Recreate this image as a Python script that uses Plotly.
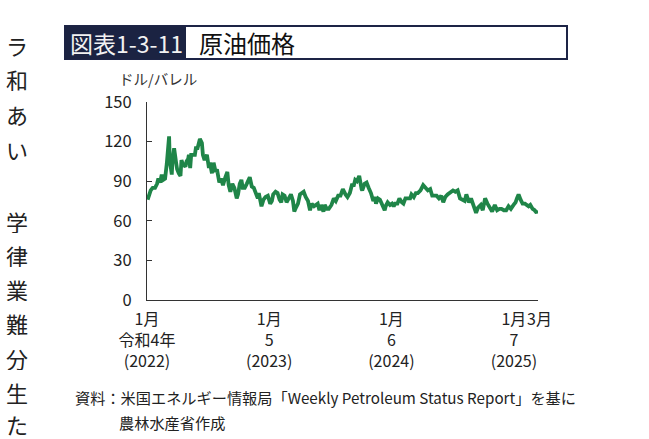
import plotly.graph_objects as go

FONT = "Noto Sans CJK JP"

dates = [
    "2022-01-03","2022-01-07","2022-01-12","2022-01-18","2022-01-25","2022-01-31","2022-02-04","2022-02-09",
    "2022-02-14","2022-02-18","2022-02-24","2022-03-01","2022-03-04","2022-03-08","2022-03-10","2022-03-16",
    "2022-03-18","2022-03-23","2022-03-29","2022-04-01","2022-04-06","2022-04-11","2022-04-14","2022-04-19",
    "2022-04-22","2022-04-26","2022-04-29","2022-05-04","2022-05-06","2022-05-10","2022-05-13","2022-05-18",
    "2022-05-24","2022-05-27","2022-06-01","2022-06-08","2022-06-14","2022-06-17","2022-06-22","2022-06-29",
    "2022-07-05","2022-07-08","2022-07-14","2022-07-19","2022-07-25","2022-07-29","2022-08-05","2022-08-10",
    "2022-08-16","2022-08-23","2022-08-29","2022-09-02","2022-09-07","2022-09-13","2022-09-19","2022-09-26",
    "2022-09-30","2022-10-05","2022-10-10","2022-10-14","2022-10-20","2022-10-26","2022-11-04","2022-11-10",
    "2022-11-16","2022-11-22","2022-11-28","2022-12-01","2022-12-07","2022-12-09","2022-12-15","2022-12-21",
    "2022-12-28",
    "2023-01-04","2023-01-09","2023-01-13","2023-01-20","2023-01-26","2023-02-01","2023-02-06","2023-02-10",
    "2023-02-16","2023-02-22","2023-03-01","2023-03-07","2023-03-13","2023-03-17","2023-03-22","2023-03-28",
    "2023-04-03","2023-04-11","2023-04-14","2023-04-20","2023-04-27","2023-05-03","2023-05-08","2023-05-15",
    "2023-05-19","2023-05-26","2023-05-31","2023-06-05","2023-06-12","2023-06-16","2023-06-22","2023-06-28",
    "2023-07-06","2023-07-13","2023-07-19","2023-07-26","2023-08-02","2023-08-09","2023-08-17","2023-08-23",
    "2023-08-30","2023-09-05","2023-09-11","2023-09-15","2023-09-20","2023-09-27","2023-10-04","2023-10-06",
    "2023-10-13","2023-10-19","2023-10-25","2023-11-01","2023-11-08","2023-11-13","2023-11-16","2023-11-22",
    "2023-11-28","2023-12-05","2023-12-12","2023-12-15","2023-12-21","2023-12-28",
    "2024-01-03","2024-01-08","2024-01-12","2024-01-19","2024-01-25","2024-02-01","2024-02-06","2024-02-12",
    "2024-02-20","2024-02-26","2024-03-01","2024-03-08","2024-03-14","2024-03-20","2024-03-28","2024-04-05",
    "2024-04-12","2024-04-19","2024-04-26","2024-05-02","2024-05-08","2024-05-15","2024-05-22","2024-05-29",
    "2024-06-04","2024-06-10","2024-06-17","2024-06-24","2024-07-03","2024-07-10","2024-07-17","2024-07-24",
    "2024-08-01","2024-08-07","2024-08-12","2024-08-20","2024-08-26","2024-09-03","2024-09-10","2024-09-16",
    "2024-09-24","2024-09-30","2024-10-07","2024-10-14","2024-10-21","2024-10-28","2024-11-05","2024-11-12",
    "2024-11-19","2024-11-25","2024-12-02","2024-12-09","2024-12-16","2024-12-23","2024-12-31",
    "2025-01-06","2025-01-10","2025-01-15","2025-01-21","2025-01-27","2025-02-03","2025-02-10","2025-02-14",
    "2025-02-19","2025-02-26","2025-03-04","2025-03-10","2025-03-12",
]
prices = [
    76,79,83,85,85,88,92,89,
    95,91,92,103,116,124,106,95,
    105,115,104,99,96,94,106,102,
    102,101,105,107,110,100,110,110,
    110,115,115,122,119,110,106,110,
    100,104,96,104,97,99,89,92,
    87,93,97,87,82,88,85,77,
    80,88,91,85,85,88,93,86,
    85,81,77,81,72,71,76,78,
    79,
    73,75,80,82,81,76,74,80,
    79,74,77,80,75,67,70,73,
    80,81,82,78,75,68,73,71,
    72,73,68,72,67,72,69,69,
    72,77,75,79,79,84,80,78,
    81,87,87,91,90,94,84,83,
    88,89,85,81,75,78,73,77,
    76,72,68,71,74,72,
    73,71,73,73,77,74,73,77,
    77,77,80,78,81,81,83,87,
    85,83,84,79,79,79,77,79,
    74,78,80,81,83,82,83,77,
    76,75,80,74,77,70,66,70,
    72,68,77,73,70,67,72,68,
    69,69,68,68,71,69,72,
    74,77,80,76,73,73,72,71,
    72,69,68,66,68,
]

x_tick_vals = ["2022-01-01", "2023-01-01", "2024-01-01", "2025-01-01"]
x_tick_text = ["1月<br>令和4年<br>(2022)", "1月<br>5<br>(2023)", "1月<br>6<br>(2024)", "1月<br>7<br>(2025)"]
y_tick_vals = [0, 30, 60, 90, 120, 150]

title_tag = "図表1-3-11"
title_text = "原油価格"
y_unit = "ドル/バレル"
source_line1 = "資料：米国エネルギー情報局「Weekly Petroleum Status Report」を基に"
source_line2 = "農林水産省作成"
edge_chars = ["ラ", "和", "あ", "い", "学", "律", "業", "難", "分", "生", "た"]
edge_y = [45, 79, 114, 149, 221, 255, 289, 323, 358, 392, 424]

W, H = 649, 439
L, R, T, B = 147, 538, 102, 300  # plot area in pixels


def px(x):
    return (x - L) / (R - L)


def py(y):
    return (B - y) / (B - T)


fig = go.Figure()
fig.add_trace(go.Scatter(
    x=dates, y=prices, mode="lines",
    line=dict(color="#1f8548", width=3.8), showlegend=False,
))

fig.update_layout(
    width=W, height=H,
    margin=dict(l=L, r=W - R, t=T, b=H - B, pad=0),
    paper_bgcolor="white", plot_bgcolor="white",
    font=dict(family=FONT, color="#222"),
    xaxis=dict(
        type="date", range=["2022-01-01", "2025-03-14"],
        tickvals=x_tick_vals, ticktext=x_tick_text,
        ticks="", showline=True, linecolor="#333", linewidth=1,
        showgrid=False, zeroline=False, tickfont=dict(size=16, color="#222"),
        ticklabelstandoff=5, fixedrange=True,
    ),
    yaxis=dict(
        range=[0, 150], tickvals=y_tick_vals,
        ticks="inside", ticklen=5, tickcolor="#333", tickwidth=1,
        showline=True, linecolor="#333", linewidth=1,
        showgrid=False, zeroline=False, tickfont=dict(size=16.5, color="#222"),
        ticklabelstandoff=11,
    ),
    shapes=[
        dict(type="rect", xref="paper", yref="paper", x0=px(65), x1=px(567), y0=py(59), y1=py(26),
             line=dict(color="#1d2446", width=2), fillcolor="white", layer="below"),
        dict(type="rect", xref="paper", yref="paper", x0=px(65), x1=px(186), y0=py(59), y1=py(26),
             line=dict(width=0), fillcolor="#1b2342", layer="below"),
    ],
)

ann = []
ann.append(dict(text=title_tag, xref="paper", yref="paper", x=px(126), y=py(43), xanchor="center",
                yanchor="middle", showarrow=False, font=dict(size=23, color="#f2f2f2", family=FONT)))
ann.append(dict(text=title_text, xref="paper", yref="paper", x=px(197), y=py(43), xanchor="left",
                yanchor="middle", showarrow=False, font=dict(size=24, color="#111", family=FONT)))
ann.append(dict(text=y_unit, xref="paper", yref="paper", x=px(117), y=py(78), xanchor="left",
                yanchor="middle", showarrow=False, font=dict(size=14.5, color="#333", family=FONT)))
ann.append(dict(text="3月", xref="x", yref="paper", x="2025-03-01", y=py(318), xanchor="left",
                yanchor="middle", xshift=-9, showarrow=False, font=dict(size=16, color="#222", family=FONT)))
ann.append(dict(text=source_line1, xref="paper", yref="paper", x=px(73), y=py(397), xanchor="left",
                yanchor="middle", showarrow=False, font=dict(size=15.2, color="#222", family=FONT)))
ann.append(dict(text=source_line2, xref="paper", yref="paper", x=px(117), y=py(422), xanchor="left",
                yanchor="middle", showarrow=False, font=dict(size=15.2, color="#222", family=FONT)))
for ch, yy in zip(edge_chars, edge_y):
    ann.append(dict(text=ch, xref="paper", yref="paper", x=px(17), y=py(yy), xanchor="center",
                    yanchor="middle", height=24, showarrow=False,
                    font=dict(size=22, color="#222", family=FONT)))
fig.update_layout(annotations=ann)

fig.write_html("out.html")
